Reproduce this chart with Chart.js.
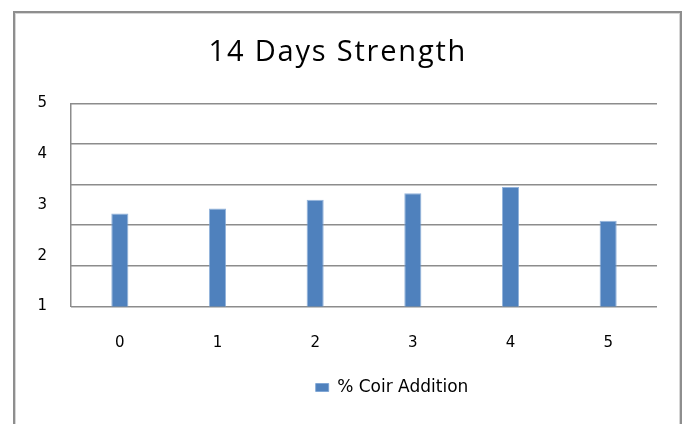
<!DOCTYPE html>
<html>
<head>
<meta charset="utf-8">
<script src="https://cdn.jsdelivr.net/npm/chart.js@4.4.1/dist/chart.umd.min.js"></script>
<style>
  html, body { margin: 0; padding: 0; background: #fff; }
  #wrap { position: relative; width: 683px; height: 424px; overflow: hidden; }
  #c { position: absolute; left: 0; top: 0; }
  #frame {
    position: absolute; left: 13px; top: 11px; width: 665px; height: 480px;
    border: 2px solid #8e8e8e; box-shadow: inset 1px 1px 0 #d6d6d6, inset -1px 0 0 #d6d6d6;
    pointer-events: none;
  }
</style>
</head>
<body>
<div id="wrap">
  <canvas id="c" width="683" height="424"></canvas>
  <div id="frame"></div>
</div>
<script>
// Coir addition levels (%) and 14-day strength
const categories = ['0', '1', '2', '3', '4', '5'];
const strength14 = [2.83, 2.93, 3.10, 3.23, 3.35, 2.69];
const yTicks = [1, 2, 3, 4, 5];
const seriesName = '% Coir Addition';
const chartTitle = '14 Days Strength';

const GRID = '#8c8c8c';
const BAR = '#4f81bd';
const AXIS_FONT = { family: 'DejaVu Sans', size: 15 };

// Nudge the legend to the right of the plot centre
const legendShift = {
  id: 'legendShift',
  afterLayout(chart, args, opts) {
    const lg = chart.legend;
    if (lg) { lg.left += opts.dx; lg.right += opts.dx; }
  }
};

// Slightly wider tracking for the title text
const titleTracking = {
  id: 'titleTracking',
  beforeDraw(chart, args, opts) {
    const tb = chart.titleBlock;
    if (tb && !tb._tracked) {
      const orig = tb.draw;
      tb.draw = function () {
        const ctx = this.ctx;
        ctx.save();
        ctx.letterSpacing = opts.spacing + 'px';
        ctx.translate(opts.spacing / 2, 0);
        orig.apply(this, arguments);
        ctx.restore();
      };
      tb._tracked = true;
    }
  }
};

new Chart(document.getElementById('c'), {
  type: 'bar',
  data: {
    labels: categories,
    datasets: [{
      label: seriesName,
      data: strength14,
      backgroundColor: BAR,
      borderColor: 'rgba(120,160,210,0.8)',
      borderWidth: 1,
      categoryPercentage: 1,
      barPercentage: 0.175,
      yAxisID: 'y'
    }]
  },
  options: {
    responsive: false,
    animation: false,
    layout: { padding: { top: 12, left: 17, right: 26, bottom: 18 } },
    plugins: {
      title: {
        display: true,
        text: chartTitle,
        color: '#000',
        font: { family: 'Open Sans', size: 29, weight: 'normal' },
        padding: { top: 23, bottom: 33.5 }
      },
      titleTracking: { spacing: 1.8 },
      legend: {
        position: 'bottom',
        labels: {
          color: '#000',
          font: { family: 'DejaVu Sans', size: 17 },
          boxWidth: 13,
          boxHeight: 8,
          padding: 10
        }
      },
      legendShift: { dx: 55 },
      tooltip: { enabled: false }
    },
    scales: {
      x: {
        grid: { display: false, drawTicks: false },
        border: { display: false },
        ticks: { color: '#000', font: AXIS_FONT, padding: 28 },
        afterFit(s) { s.height = 62.5; }
      },
      y: {
        position: 'left',
        min: 1, max: 5,
        afterBuildTicks(s) { s.ticks = yTicks.map(v => ({ value: v })); },
        grid: { display: false, drawTicks: false },
        border: { display: true, color: GRID, width: 1.5 },
        ticks: { color: '#000', font: AXIS_FONT, padding: 24 },
        afterFit(s) { s.width = 54; }
      },
      yg: {
        position: 'left',
        min: 0, max: 5,
        ticks: { display: false, stepSize: 1 },
        grid: { color: GRID, lineWidth: 1.5, drawTicks: false },
        border: { display: false },
        afterFit(s) { s.width = 0; }
      }
    }
  },
  plugins: [legendShift, titleTracking]
});
</script>
</body>
</html>
